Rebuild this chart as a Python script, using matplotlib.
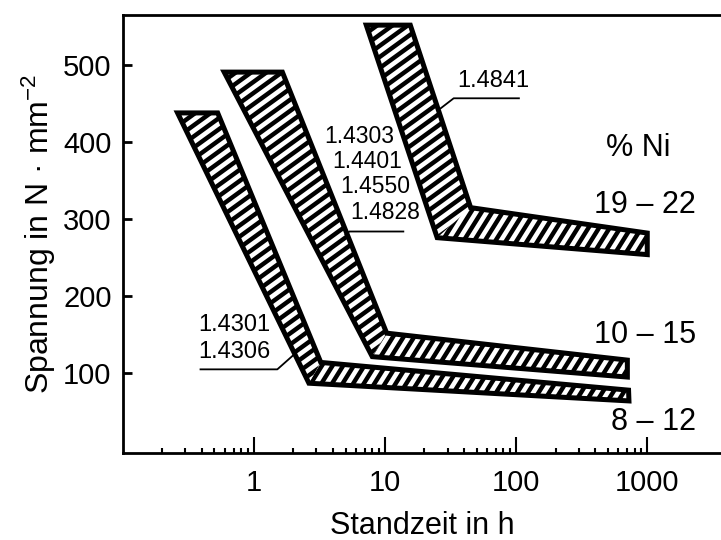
import numpy as np
import matplotlib
matplotlib.use("Agg")
import matplotlib.pyplot as plt
from matplotlib import font_manager
from matplotlib.patches import Polygon
from matplotlib.collections import LineCollection
from matplotlib.ticker import FixedLocator, NullFormatter

# band outlines: top-left, top-right, knee upper, end upper, end lower, knee lower
band_8_12_x = [0.262, 0.53, 3.24, 720, 725, 2.63]
band_8_12_y = [438, 438, 114, 78, 64, 87]
band_10_15_x = [0.594, 1.65, 10.3, 705, 705, 8.0]
band_10_15_y = [491, 491, 152, 117, 95, 121.5]
band_19_22_x = [7.2, 15.6, 45, 1000, 1000, 25]
band_19_22_y = [552, 552, 315, 282, 254, 276]

bands = [(band_8_12_x, band_8_12_y),
         (band_10_15_x, band_10_15_y),
         (band_19_22_x, band_19_22_y)]

ni_labels = ["19 \u2013 22", "10 \u2013 15", "8 \u2013 12"]
ni_label_y = [318, 150, 37]

steel_1 = ["1.4301", "1.4306"]
steel_1_y = [162, 128]
steel_2 = ["1.4303", "1.4401", "1.4550", "1.4828"]
steel_2_x = [3.45, 3.95, 4.55, 5.4]
steel_2_y = [408, 375, 342, 309]

x_ticks = [1, 10, 100, 1000]
y_ticks = [100, 200, 300, 400, 500]

names = {f.name for f in font_manager.fontManager.ttflist}
family = "Liberation Sans Narrow" if "Liberation Sans Narrow" in names else "Liberation Sans"
plt.rcParams["font.family"] = [family, "DejaVu Sans"]
plt.rcParams["mathtext.fontset"] = "custom"
plt.rcParams["mathtext.rm"] = family
plt.rcParams["mathtext.it"] = family

fig = plt.figure(figsize=(7.21, 5.40), dpi=100)
ax = fig.add_axes([0.1702, 0.162, 0.8298, 0.810])
ax.set_xscale("log")
ax.set_xlim(0.1, 3650)
ax.set_ylim(-3, 565)

W = fig.get_figwidth() * fig.dpi * 0.8298
H = fig.get_figheight() * fig.dpi * 0.810


def stripes(angle, pitch=9.0):
    # parallel lines in pixel space, expressed in axes fraction
    t = np.radians(angle)
    d = np.array([np.cos(t), np.sin(t)])
    n = np.array([-np.sin(t), np.cos(t)])
    L = np.hypot(W, H)
    c0 = np.array([W / 2, H / 2])
    segs = []
    for s in np.arange(-L, L, pitch):
        c = c0 + s * n
        p1 = (c - L * d) / [W, H]
        p2 = (c + L * d) / [W, H]
        segs.append([p1, p2])
    return segs


for bx, by in bands:
    pts = list(zip(bx, by))
    parts = [([pts[0], pts[1], pts[2], pts[5]], 36),
             ([pts[5], pts[2], pts[3], pts[4]], 58)]
    for quad, ang in parts:
        patch = Polygon(quad, closed=True, facecolor="white", edgecolor="none", zorder=2)
        ax.add_patch(patch)
        lc = LineCollection(stripes(ang), colors="black", linewidths=3.2,
                            transform=ax.transAxes, zorder=3)
        ax.add_collection(lc)
        lc.set_clip_path(patch)
    outline = Polygon(pts, closed=True, facecolor="none", edgecolor="black",
                      linewidth=3.6, joinstyle="miter", zorder=4)
    ax.add_patch(outline)

# labels on the right
ax.text(482, 392, "% Ni", ha="left", va="center", fontsize=22)
for lab, yy in zip(ni_labels, ni_label_y):
    ax.text(2340, yy, lab, ha="right", va="center", fontsize=22)

# steel grade labels with leader lines
ax.text(35.6, 479, "1.4841", ha="left", va="center", fontsize=17)
ax.plot([26.6, 33.4, 105], [444, 457, 457], color="black", lw=1.3, zorder=5)

for lab, xx, yy in zip(steel_2, steel_2_x, steel_2_y):
    ax.text(xx, yy, lab, ha="left", va="center", fontsize=16.5)
ax.plot([5.0, 5.35, 13.8], [280, 284, 284], color="black", lw=1.3, zorder=5)

for lab, yy in zip(steel_1, steel_1_y):
    ax.text(0.379, yy, lab, ha="left", va="center", fontsize=17)
ax.plot([0.392, 1.51, 2.08], [105, 105, 126], color="black", lw=1.3, zorder=5)

# axes styling
for side in ["left", "bottom", "top"]:
    ax.spines[side].set_linewidth(2.0)
ax.spines["right"].set_visible(False)

ax.xaxis.set_major_locator(FixedLocator(x_ticks))
ax.set_xticklabels([str(v) for v in x_ticks])
minors = [k * 10.0 ** d for d in range(-1, 3) for k in range(2, 10)]
ax.xaxis.set_minor_locator(FixedLocator(minors))
ax.xaxis.set_minor_formatter(NullFormatter())
ax.set_yticks(y_ticks)

ax.tick_params(axis="x", which="major", direction="in", length=11.5, width=1.5,
               labelsize=21, pad=12, top=False)
ax.tick_params(axis="x", which="minor", direction="in", length=3.8, width=1.5, top=False)
ax.tick_params(axis="y", which="major", direction="in", length=6.7, width=2.0,
               labelsize=21, pad=8, right=False)

ax.set_xlabel("Standzeit in h", fontsize=22, labelpad=10)
ax.set_ylabel("Spannung in N \u00b7 mm$^{-2}$", fontsize=23, labelpad=4)

fig.savefig("out.png", dpi=100)
